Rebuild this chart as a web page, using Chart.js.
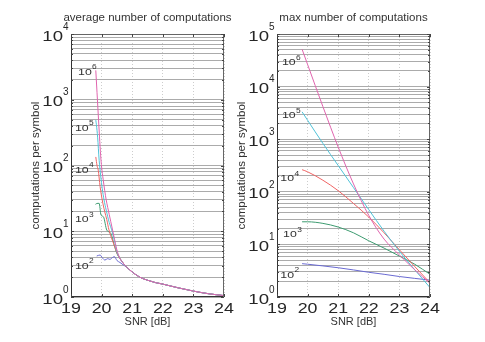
<!DOCTYPE html>
<html><head><meta charset="utf-8">
<script src="https://cdn.jsdelivr.net/npm/chart.js@4"></script>
<style>
html,body{margin:0;padding:0;background:#fff;}
#wrap{position:relative;width:485px;height:342px;overflow:hidden;background:#fff;}
canvas{position:absolute;top:0;}
#cA{left:0}
#cB{left:232px}
</style></head><body>
<div id="wrap"><canvas id="cA" width="242" height="342"></canvas><canvas id="cB" width="253" height="342"></canvas></div>
<script>
// ---------- data ----------
const seriesExp = ['6','5','4','3','2'];           // curve labels 10^k
const xTickValues = [19, 20, 21, 22, 23, 24];
const xTickLabels = ['19','20','21','22','23','24'];
const avgYTickValues = [1, 10, 100, 1000, 10000];
const avgYTickExp = ['0','1','2','3','4'];
const maxYTickValues = [1, 10, 100, 1000, 10000, 100000];
const maxYTickExp = ['0','1','2','3','4','5'];

// left panel: average number of computations
const avgTailX = [20.6, 20.7, 20.8, 20.9, 21.0, 21.25, 21.5, 21.75, 22.0, 22.5, 23.0, 23.5, 24.0];
const avgTailY = [3.85, 3.3, 2.9, 2.63, 2.4, 2.0, 1.8, 1.66, 1.57, 1.38, 1.23, 1.12, 1.05];
const avg1e6X = [19.81, 19.85, 19.89, 19.93, 19.97, 20.0, 20.05, 20.1, 20.15, 20.2, 20.3, 20.4, 20.5];
const avg1e6Y = [2800, 1300, 600, 280, 140, 95, 62, 42, 30, 23, 14, 8.5, 5.2];
const avg1e5X = [19.81, 19.83, 19.87, 19.92, 19.97, 20.02, 20.08, 20.15, 20.25, 20.33, 20.42, 20.5];
const avg1e5Y = [490, 420, 270, 120, 70, 45, 30, 21, 13.5, 10.5, 7.2, 4.9];
const avg1e4X = [19.81, 19.85, 19.89, 19.95, 20.02, 20.1, 20.17, 20.24, 20.32, 20.42, 20.5];
const avg1e4Y = [135, 100, 85, 48, 30, 20, 15, 10.5, 8, 6.0, 4.7];
const avg1e3X = [19.8, 19.85, 19.92, 19.98, 20.06, 20.17, 20.3, 20.41, 20.5];
const avg1e3Y = [25.7, 26.5, 26.6, 17.7, 16.6, 10.4, 9.3, 6.2, 4.6];
const avg1e2X = [19.84, 19.95, 20.03, 20.11, 20.2, 20.27, 20.38, 20.42, 20.5, 20.6, 20.7, 20.8];
const avg1e2Y = [4.2, 4.35, 3.9, 3.65, 3.83, 3.74, 4.06, 4.1, 3.6, 3.35, 3.1, 2.88];

// right panel: max number of computations
const maxX   = [19.82, 20, 20.5, 21, 21.5, 22, 22.5, 23, 23.5, 24];
const max1e6 = [51300, 26300, 4170, 708, 141, 35.5, 12.6, 6.3, 3.3, 1.82];
const max1e5 = [3310, 2290, 832, 316, 120, 45.7, 17.8, 7.4, 3.3, 1.51];
const max1e4 = [263, 240, 166, 105, 60, 33, 16.6, 7.9, 3.8, 1.86];
const max1e3 = [26.9, 26.9, 25.1, 21.4, 16.6, 11.7, 8.5, 6.0, 4.2, 2.7];
const max1e2 = [4.3, 4.2, 3.9, 3.6, 3.27, 2.95, 2.7, 2.45, 2.26, 2.09];

// curve label anchors (data coordinates, same order as seriesExp)
const avgLabelX = [19.23, 19.13, 19.13, 19.13, 19.13];
const avgLabelY = [2380, 335, 77, 13.8, 2.67];
const maxLabelX = [19.16, 19.16, 19.11, 19.2, 19.11];
const maxLabelY = [25700, 2495, 160, 13.8, 2.3];

// ---------- styling ----------
const COLORS = { '2':'#6a6ad2', '3':'#3d9b70', '4':'#f06464', '5':'#4fc2d8', '6':'#e064ae' };
const FONT = '"Liberation Sans", Arial, sans-serif';

function pts(xs, ys) { return xs.map((x, i) => ({ x: x, y: ys[i] })); }
function joinTail(xs, ys) {
  const p = pts(xs, ys);
  const last = xs[xs.length - 1];
  avgTailX.forEach((x, i) => { if (x > last + 1e-9) p.push({ x: x, y: avgTailY[i] }); });
  return p;
}
function ds(exp, data) {
  return { label: '10^' + exp, data: data, borderColor: COLORS[exp], borderWidth: 1, pointRadius: 0, fill: false };
}
function gridValues(maxExp) {
  const v = [];
  for (let e = 0; e < maxExp; e++) for (let m = 1; m < 10; m++) v.push(m * Math.pow(10, e));
  v.push(Math.pow(10, maxExp));
  return v;
}

function stretchText(ctx, txt, x, y, sx, align) {
  ctx.save();
  ctx.translate(x, y);
  ctx.scale(sx, 1);
  ctx.textAlign = align;
  ctx.fillText(txt, 0, 0);
  ctx.restore();
}

function decoPlugin(o) {
  return {
    id: 'deco',
    afterDraw(chart) {
      const ctx = chart.ctx, a = chart.chartArea;
      const xs = chart.scales.x, ys = chart.scales.y;
      ctx.save();
      // frame
      ctx.lineWidth = 1;
      ctx.strokeStyle = '#666';
      ctx.beginPath();
      ctx.moveTo(Math.round(a.left) + 0.5, Math.round(a.top) + 0.5);
      ctx.lineTo(Math.round(a.right) - 0.5, Math.round(a.top) + 0.5);
      ctx.lineTo(Math.round(a.right) - 0.5, Math.round(a.bottom) - 0.5);
      ctx.stroke();
      ctx.strokeStyle = '#333';
      ctx.beginPath();
      ctx.moveTo(Math.round(a.left) + 0.5, Math.round(a.top) + 0.5);
      ctx.lineTo(Math.round(a.left) + 0.5, Math.round(a.bottom) - 0.5);
      ctx.lineTo(Math.round(a.right) - 0.5, Math.round(a.bottom) - 0.5);
      ctx.stroke();
      // inward ticks
      ctx.strokeStyle = '#444';
      ctx.beginPath();
      xTickValues.forEach(v => {
        const px = Math.round(xs.getPixelForValue(v)) + 0.5;
        ctx.moveTo(px, a.bottom); ctx.lineTo(px, a.bottom - 3);
        ctx.moveTo(px, a.top); ctx.lineTo(px, a.top + 3);
      });
      o.grid.forEach(v => {
        const py = Math.round(ys.getPixelForValue(v)) + 0.5;
        const major = o.majors.indexOf(v) >= 0;
        const L = major ? 3 : 2;
        ctx.moveTo(a.left, py); ctx.lineTo(a.left + L, py);
        ctx.moveTo(a.right, py); ctx.lineTo(a.right - L, py);
      });
      ctx.stroke();

      ctx.fillStyle = '#262626';
      // y tick labels 10^k
      o.majors.forEach((v, i) => {
        const py = ys.getPixelForValue(v);
        ctx.font = '15.5px ' + FONT;
        ctx.textBaseline = 'alphabetic';
        stretchText(ctx, '10', a.left - 8, py + 6.5, 1.2, 'right');
        ctx.font = '10px ' + FONT;
        ctx.textAlign = 'left';
        ctx.fillText(o.majorExp[i], a.left - 8, py - 4.3);
      });
      // x tick labels
      ctx.font = '15.5px ' + FONT;
      xTickValues.forEach((v, i) => {
        stretchText(ctx, xTickLabels[i], xs.getPixelForValue(v), a.bottom + 15.5, 1.15, 'center');
      });
      // axis titles
      ctx.fillStyle = '#333';
      ctx.font = '11px ' + FONT;
      ctx.textAlign = 'center';
      ctx.fillText('SNR [dB]', (a.left + a.right) / 2, a.bottom + 27.5);
      ctx.font = '11.5px ' + FONT;
      ctx.fillText(o.title, (a.left + a.right) / 2, 21);
      ctx.save();
      ctx.translate(a.left - 35, (a.top + a.bottom) / 2);
      ctx.rotate(-Math.PI / 2);
      ctx.textBaseline = 'middle';
      ctx.textAlign = 'center';
      ctx.fillText('computations per symbol', 0, 0);
      ctx.restore();
      // curve labels
      ctx.fillStyle = '#333';
      o.labelX.forEach((lx, i) => {
        const px = xs.getPixelForValue(lx), py = ys.getPixelForValue(o.labelY[i]);
        ctx.font = '9.5px ' + FONT;
        ctx.textBaseline = 'alphabetic';
        const w = ctx.measureText('10').width * 1.3;
        stretchText(ctx, '10', px, py, 1.3, 'left');
        ctx.font = '7px ' + FONT;
        stretchText(ctx, seriesExp[i], px + w + 0.3, py - 5.5, 1.2, 'left');
      });
      ctx.restore();
    }
  };
}

function makeChart(canvas, o) {
  return new Chart(canvas, {
    type: 'line',
    data: { datasets: o.datasets },
    options: {
      responsive: false, animation: false, devicePixelRatio: 1,
      layout: { padding: { left: 0, right: o.padRight, top: 34, bottom: 0 } },
      plugins: { legend: { display: false }, tooltip: { enabled: false }, title: { display: false } },
      elements: { point: { radius: 0 }, line: { borderWidth: 1, cubicInterpolationMode: 'monotone' } },
      scales: {
        x: {
          type: 'linear', min: 19, max: 24,
          afterBuildTicks: s => { s.ticks = xTickValues.map(v => ({ value: v })); },
          afterFit: s => { s.height = 45; },
          ticks: { display: false },
          grid: { color: '#cdcdcd', drawTicks: false, lineWidth: 1 },
          border: { display: false, dash: [1, 2] }
        },
        y: {
          type: 'logarithmic', min: 1, max: o.yMax,
          afterBuildTicks: s => { s.ticks = o.grid.map(v => ({ value: v })); },
          afterFit: s => { s.width = o.yWidth; },
          ticks: { display: false },
          grid: { color: '#ababab', drawTicks: false, lineWidth: 1 },
          border: { display: false }
        }
      }
    },
    plugins: [decoPlugin(o)]
  });
}

// Chart.js draws dataset 0 on top, so the 10^6 curve is listed first.
const avgGrid = gridValues(4);
makeChart(document.getElementById('cA'), {
  title: 'average number of computations',
  yMax: 10000, yWidth: 71, padRight: 18,
  grid: avgGrid, majors: avgYTickValues, majorExp: avgYTickExp,
  labelX: avgLabelX, labelY: avgLabelY,
  datasets: [
    ds('6', joinTail(avg1e6X, avg1e6Y)),
    ds('5', joinTail(avg1e5X, avg1e5Y)),
    ds('4', joinTail(avg1e4X, avg1e4Y)),
    ds('3', joinTail(avg1e3X, avg1e3Y)),
    ds('2', joinTail(avg1e2X, avg1e2Y))
  ]
});

const maxGrid = gridValues(5);
makeChart(document.getElementById('cB'), {
  title: 'max number of computations',
  yMax: 100000, yWidth: 45, padRight: 55,
  grid: maxGrid, majors: maxYTickValues, majorExp: maxYTickExp,
  labelX: maxLabelX, labelY: maxLabelY,
  datasets: [
    ds('6', pts(maxX, max1e6)),
    ds('5', pts(maxX, max1e5)),
    ds('4', pts(maxX, max1e4)),
    ds('3', pts(maxX, max1e3)),
    ds('2', pts(maxX, max1e2))
  ]
});
</script>
</body></html>
